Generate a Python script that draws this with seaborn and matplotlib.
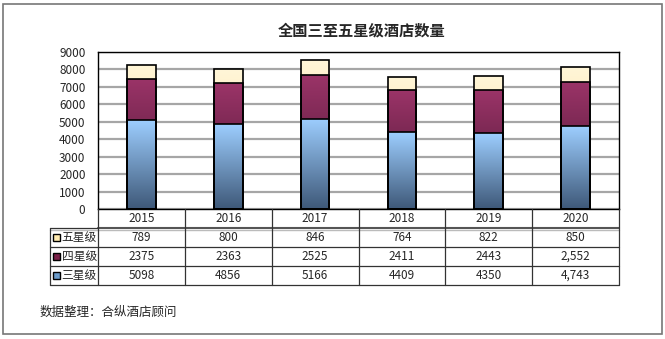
import numpy as np
import pandas as pd
import matplotlib
matplotlib.use("Agg")
import matplotlib.pyplot as plt
import seaborn as sns
from matplotlib.colors import LinearSegmentedColormap
from matplotlib.patches import Rectangle
from matplotlib.lines import Line2D

years = ["2015", "2016", "2017", "2018", "2019", "2020"]
three_star = [5098, 4856, 5166, 4409, 4350, 4743]
four_star = [2375, 2363, 2525, 2411, 2443, 2552]
five_star = [789, 800, 846, 764, 822, 850]
three_lbl = ["5098", "4856", "5166", "4409", "4350", "4,743"]
four_lbl = ["2375", "2363", "2525", "2411", "2443", "2,552"]
five_lbl = ["789", "800", "846", "764", "822", "850"]
series_names = ["五星级", "四星级", "三星级"]
yticks = [0, 1000, 2000, 3000, 4000, 5000, 6000, 7000, 8000, 9000]

sns.set_style("white")
plt.rcParams['font.family'] = ['Noto Sans CJK SC', 'DejaVu Sans']

W, H = 665, 339
fig = plt.figure(figsize=(W / 100, H / 100), dpi=100)

def fx(px):
    return px / W

def fy(py):
    return 1 - py / H

L, R, T, B = 98, 619, 52, 209
ax = fig.add_axes([fx(L), fy(B), fx(R - L), (B - T) / H])

df = pd.DataFrame({"year": years,
                   "s3": three_star,
                   "s34": np.array(three_star) + np.array(four_star),
                   "s345": np.array(three_star) + np.array(four_star) + np.array(five_star)})

grads = {
    "s345": ("#FFD98F", "#FFF6D8"),
    "s34": ("#45142F", "#9B3468"),
    "s3": ("#3E5878", "#9DCEFF"),
}
for col in ["s345", "s34", "s3"]:
    n0 = len(ax.patches)
    sns.barplot(data=df, x="year", y=col, ax=ax, color="white", width=0.33,
                edgecolor="black", linewidth=1.2, saturation=1, zorder=3)
    cmap = LinearSegmentedColormap.from_list(col, list(grads[col]))
    for p in ax.patches[n0:]:
        x0, y0 = p.get_x(), p.get_y()
        w, h = p.get_width(), p.get_height()
        grad = np.linspace(0, 1, 256).reshape(-1, 1)
        im = ax.imshow(grad, cmap=cmap, origin="lower", aspect="auto",
                       extent=[x0, x0 + w, y0, y0 + h], zorder=p.get_zorder() + 0.1)
        im.set_clip_path(p)
        p.set_facecolor("none")
        p.set_zorder(p.get_zorder() + 0.2)

ax.set_xlim(-0.5, 5.5)
ax.set_ylim(0, 9000)
ax.set_yticks(yticks)
ax.set_yticklabels([str(v) for v in yticks], fontsize=8.5)
ax.tick_params(axis="y", length=0, pad=9)
ax.set_xticks([])
ax.set_xlabel("")
ax.set_ylabel("")
ax.grid(axis="y", color="#A6A6A6", linewidth=1.6, zorder=0)
ax.set_axisbelow(True)
for s in ax.spines.values():
    s.set_color("black")
    s.set_linewidth(1.0)

# data table
row_y = [209, 228, 247, 266, 285]
catw = (R - L) / 6
LC = 50
lines = []
lines.append(((L, R), (228, 228), "#555555", 1.5))
lines.append(((LC, R), (229.5, 229.5), "#BBBBBB", 1.0))
for yy in [247, 266, 285]:
    lines.append(((LC, R), (yy, yy), "#333333", 0.9))
lines.append(((LC, L), (228, 228), "#333333", 0.9))
lines.append(((LC, LC), (228, 285), "#333333", 0.9))
lines.append(((L, L), (209, 285), "#333333", 0.9))
for i in range(1, 7):
    xx = L + i * catw
    lines.append(((xx, xx), (209, 285), "#333333", 0.9))
for xs, ys, c, lw in lines:
    fig.add_artist(Line2D([fx(xs[0]), fx(xs[1])], [fy(ys[0]), fy(ys[1])],
                          color=c, linewidth=lw, transform=fig.transFigure))

for i, yr in enumerate(years):
    cx = L + (i + 0.5) * catw
    fig.text(fx(cx), fy(218.5), yr, ha="center", va="center", fontsize=8.5)
    for r, lbls in enumerate([five_lbl, four_lbl, three_lbl]):
        fig.text(fx(cx), fy(237.5 + 19 * r), lbls[i], ha="center", va="center", fontsize=8.5)

swatch = ["#FFEBB0", "#7A2048", "#6C9CCB"]
for r, name in enumerate(series_names):
    yc = 237.5 + 19 * r
    fig.add_artist(Rectangle((fx(53), fy(yc + 3.5)), 7 / W, 7 / H, facecolor=swatch[r],
                             edgecolor="black", linewidth=1.0, transform=fig.transFigure))
    fig.text(fx(61.5), fy(yc), name, ha="left", va="center", fontsize=8.5)

fig.text(fx(362), fy(30), "全国三至五星级酒店数量", ha="center", va="center",
         fontsize=11, fontweight="bold")
fig.text(fx(40), fy(312), "数据整理：合纵酒店顾问", ha="left", va="center", fontsize=9)

fig.add_artist(Rectangle((fx(3), fy(334)), 659 / W, 330 / H, facecolor="none",
                         edgecolor="#777777", linewidth=1.2, transform=fig.transFigure))

fig.savefig("out.png", dpi=100)
